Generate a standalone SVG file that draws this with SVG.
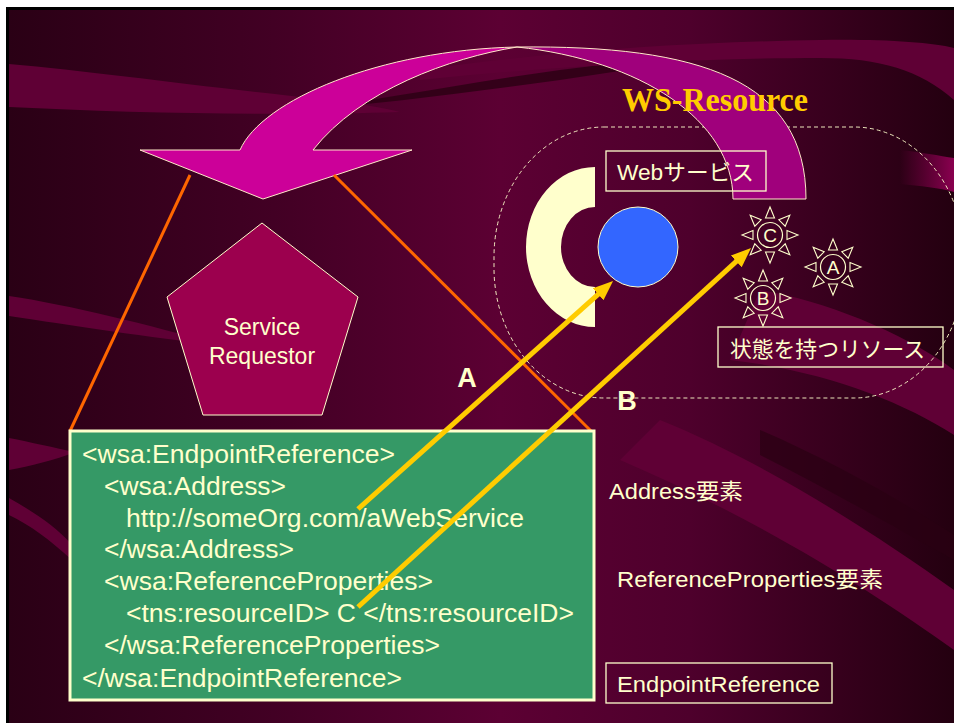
<svg xmlns="http://www.w3.org/2000/svg" width="954" height="723" viewBox="0 0 954 723">
  <defs>
    <linearGradient id="bg" x1="0" y1="0" x2="1" y2="0">
      <stop offset="0" stop-color="#2a0015"/>
      <stop offset="0.28" stop-color="#420024"/>
      <stop offset="0.52" stop-color="#5c0033"/>
      <stop offset="0.72" stop-color="#4e002c"/>
      <stop offset="1" stop-color="#240010"/>
    </linearGradient>
    <linearGradient id="pinkEdge" x1="0" y1="0" x2="1" y2="0">
      <stop offset="0" stop-color="#8a0050" stop-opacity="0"/>
      <stop offset="1" stop-color="#8a0050"/>
    </linearGradient>
    <marker id="yHead" markerUnits="userSpaceOnUse" markerWidth="22" markerHeight="18" refX="6" refY="8" orient="auto">
      <path d="M0,0 L20,8 L0,16 Z" fill="#ffcc00"/>
    </marker>
    <g id="sun">
      <circle r="12.5" fill="none" stroke="#ffffcc" stroke-width="1.2"/>
      <g id="ray"><path d="M0,-28 L-4.5,-17 L4.5,-17 Z" fill="none" stroke="#ffffcc" stroke-width="1.1"/></g>
      <use href="#ray" transform="rotate(45)"/>
      <use href="#ray" transform="rotate(90)"/>
      <use href="#ray" transform="rotate(135)"/>
      <use href="#ray" transform="rotate(180)"/>
      <use href="#ray" transform="rotate(225)"/>
      <use href="#ray" transform="rotate(270)"/>
      <use href="#ray" transform="rotate(315)"/>
    </g>
  </defs>
  <style>
    .t { font-family: "Liberation Sans", "Noto Sans CJK JP", sans-serif; fill: #ffffcc; }
    .code { font-size: 25px; }
    .lab { font-size: 22px; }
    .box { fill: none; stroke: #ffffcc; stroke-width: 1.3; }
    .band { fill: #5f0035; }
    .dark { fill: #2a0013; }
    .orange { stroke: #ff6600; stroke-width: 3; fill: none; }
    .yarrow { stroke: #ffcc00; stroke-width: 5; fill: none; marker-end: url(#yHead); }
  </style>

  <!-- page and slide frame -->
  <rect width="954" height="723" fill="#ffffff"/>
  <rect x="6" y="7" width="948" height="716" fill="#000000"/>
  <rect x="9" y="10" width="945" height="713" fill="url(#bg)"/>

  <!-- background waves -->
  <g id="waves">
    <path class="band" d="M9,64 C100,72 210,88 330,100 C360,104 385,108 400,112 C280,116 130,113 9,107 Z"/>
    <path class="dark" opacity="0.8" d="M300,110 C380,100 470,82 560,70 C640,60 720,52 800,48 C720,56 640,68 560,80 C470,92 380,104 300,110 Z"/>
    <path class="band" d="M420,70 C560,50 700,42 820,40 C880,39 930,42 954,48 L954,100 C920,70 880,58 820,58 C700,58 560,66 420,80 Z"/>
    <path fill="url(#pinkEdge)" d="M900,150 C920,152 940,156 954,158 L954,192 C940,188 920,186 900,184 Z"/>
    <path class="band" d="M9,296 C70,305 150,325 220,345 C150,338 70,325 9,316 Z"/>
    <path class="band" d="M9,438 C30,442 55,448 75,452 C55,460 30,466 9,470 Z"/>
    <path class="band" d="M9,498 C30,510 55,525 72,545 L72,560 C50,540 30,525 9,515 Z"/>
    <path class="band" d="M760,290 C820,300 900,330 954,370 L954,435 C900,400 820,370 730,360 Z"/>
    <path class="dark" opacity="0.7" d="M760,430 C830,460 900,500 954,535 L954,560 C900,530 830,490 760,455 Z"/>
    <path class="band" d="M660,420 C760,460 870,530 954,590 L954,650 C870,590 760,520 620,460 Z"/>
  </g>

  <!-- dashed WS-Resource boundary -->
  <rect x="494" y="127" width="470" height="271" rx="110" ry="130" fill="none" stroke="#ffffcc" stroke-width="1" stroke-dasharray="4 3" opacity="0.9"/>

  <!-- curved magenta arrow -->
  <g id="curved-arrow" stroke="#ffe8c8" stroke-width="1">
    <path d="M517,47 C700,45 806,80 806,199 L733,199 C733,120 640,60 517,47 Z" fill="#a0007c"/>
    <path d="M140,150 L240,150 C262,100 380,50 517,47 C450,58 360,90 313,150 L412,150 L263,199 Z" fill="#cc0099"/>
  </g>

  <text x="622" y="111" font-weight="bold" font-size="33" style="fill:#ffcc00;font-family:'Liberation Serif',serif" textLength="186" lengthAdjust="spacingAndGlyphs">WS-Resource</text>

  <!-- orange projection lines -->
  <g id="projection">
    <line class="orange" x1="190" y1="175" x2="70" y2="431"/>
    <line class="orange" x1="334" y1="175" x2="591" y2="431"/>
  </g>

  <!-- service requestor -->
  <g id="requestor">
    <polygon points="262,223 358,297 322,415 203,415 167,297" fill="#9c004e" stroke="#ffffcc" stroke-width="1"/>
    <text class="t" x="262" y="335" font-size="23" text-anchor="middle">Service</text>
    <text class="t" x="262" y="364" font-size="23" text-anchor="middle">Requestor</text>
  </g>

  <!-- web service -->
  <g id="web-service">
    <path d="M595,167 A69,80 0 0 0 595,327 L595,287 A34,40 0 0 1 595,207 Z" fill="#ffffcc"/>
    <circle cx="638" cy="247" r="40" fill="#3366ff" stroke="#ffffcc" stroke-width="1"/>
    <rect class="box" x="606" y="151" width="160" height="40"/>
    <text class="t lab" x="617" y="180" textLength="137" lengthAdjust="spacingAndGlyphs">Webサービス</text>
  </g>

  <!-- stateful resources -->
  <g id="resource-c">
    <use href="#sun" x="770" y="235"/>
    <text class="t" x="770" y="242" font-size="19" text-anchor="middle">C</text>
  </g>
  <g id="resource-a">
    <use href="#sun" x="833" y="267"/>
    <text class="t" x="833" y="274" font-size="19" text-anchor="middle">A</text>
  </g>
  <g id="resource-b">
    <use href="#sun" x="763" y="298"/>
    <text class="t" x="763" y="305" font-size="19" text-anchor="middle">B</text>
  </g>
  <g id="resource-label">
    <rect class="box" x="718" y="327" width="225" height="40"/>
    <text class="t lab" x="730" y="357" textLength="195" lengthAdjust="spacingAndGlyphs">状態を持つリソース</text>
  </g>

  <!-- endpoint reference document -->
  <g id="epr">
    <rect x="70" y="431" width="524" height="269" fill="#359966" stroke="#ffffcc" stroke-width="3"/>
    <text class="t code" x="82" y="463" textLength="313" lengthAdjust="spacingAndGlyphs">&lt;wsa:EndpointReference&gt;</text>
    <text class="t code" x="104" y="495" textLength="182" lengthAdjust="spacingAndGlyphs">&lt;wsa:Address&gt;</text>
    <text class="t code" x="126" y="527" textLength="398" lengthAdjust="spacingAndGlyphs">http://someOrg.com/aWebService</text>
    <text class="t code" x="104" y="558" textLength="190" lengthAdjust="spacingAndGlyphs">&lt;/wsa:Address&gt;</text>
    <text class="t code" x="104" y="590" textLength="329" lengthAdjust="spacingAndGlyphs">&lt;wsa:ReferenceProperties&gt;</text>
    <text class="t code" x="126" y="622" textLength="448" lengthAdjust="spacingAndGlyphs">&lt;tns:resourceID&gt; C &lt;/tns:resourceID&gt;</text>
    <text class="t code" x="104" y="654" textLength="336" lengthAdjust="spacingAndGlyphs">&lt;/wsa:ReferenceProperties&gt;</text>
    <text class="t code" x="82" y="687" textLength="320" lengthAdjust="spacingAndGlyphs">&lt;/wsa:EndpointReference&gt;</text>
  </g>

  <!-- side labels -->
  <g id="side-labels">
    <text class="t lab" x="609" y="499" textLength="134" lengthAdjust="spacingAndGlyphs">Address要素</text>
    <text class="t lab" x="617" y="587" textLength="266" lengthAdjust="spacingAndGlyphs">ReferenceProperties要素</text>
    <rect class="box" x="606" y="663" width="226" height="40"/>
    <text class="t lab" x="617" y="692" textLength="203" lengthAdjust="spacingAndGlyphs">EndpointReference</text>
  </g>

  <!-- reference arrows -->
  <g id="connectors">
    <line class="yarrow" x1="358" y1="509" x2="602.6" y2="290.3"/>
    <line class="yarrow" x1="358" y1="607" x2="740.7" y2="257.4"/>
  </g>
  <text class="t" x="467" y="387" font-size="27" font-weight="bold" text-anchor="middle">A</text>
  <text class="t" x="627" y="410" font-size="27" font-weight="bold" text-anchor="middle">B</text>
</svg>
